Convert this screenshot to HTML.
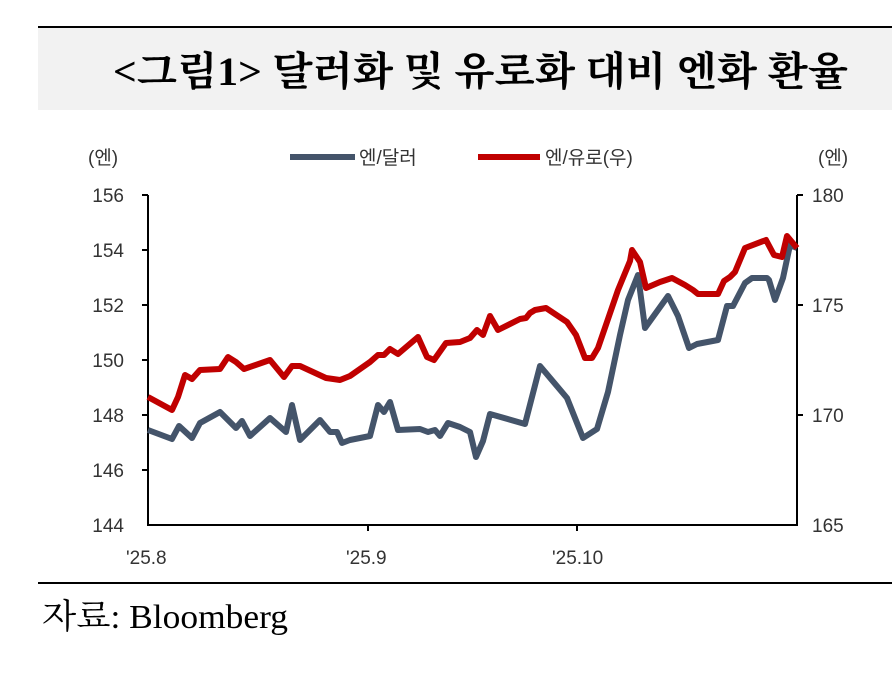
<!DOCTYPE html>
<html><head><meta charset="utf-8"><style>
html,body{margin:0;padding:0;background:#fff;width:892px;height:675px;overflow:hidden}
</style></head><body>
<svg width="892" height="675" xmlns="http://www.w3.org/2000/svg" font-family="'Liberation Sans','Noto Sans CJK KR',sans-serif">
<line x1="38" y1="27" x2="892" y2="27" stroke="#000" stroke-width="2"/>
<rect x="38" y="28" width="854" height="82" fill="#f2f2f2"/>
<text x="113" y="85" textLength="735" lengthAdjust="spacingAndGlyphs" font-family="'Liberation Serif','Noto Serif CJK SC','Noto Sans CJK KR',serif" font-size="40" font-weight="bold" fill="#000">&lt;그림1&gt; 달러화 및 유로화 대비 엔화 환율</text>
<g font-size="19" fill="#333">
<text x="88" y="164">(엔)</text>
<text x="818" y="164">(엔)</text>
<line x1="290" y1="157" x2="355" y2="157" stroke="#44546a" stroke-width="6"/>
<text x="359" y="164">엔/달러</text>
<line x1="478" y1="157" x2="540" y2="157" stroke="#c00000" stroke-width="6"/>
<text x="545" y="164">엔/유로(우)</text>
</g>
<g font-size="19" fill="#333" text-anchor="end">
<text x="124" y="202">156</text><text x="124" y="257">154</text><text x="124" y="312">152</text>
<text x="124" y="367">150</text><text x="124" y="422">148</text><text x="124" y="477">146</text><text x="124" y="532">144</text>
</g>
<g font-size="19" fill="#333">
<text x="812" y="202">180</text><text x="812" y="312">175</text><text x="812" y="422">170</text><text x="812" y="532">165</text>
<text x="126" y="564">'25.8</text><text x="346" y="564">'25.9</text><text x="552" y="564">'25.10</text>
</g>
<g stroke="#000" stroke-width="2">
<line x1="148" y1="195" x2="148" y2="526"/>
<line x1="797" y1="195" x2="797" y2="526"/>
<line x1="147" y1="525" x2="798" y2="525"/>
<line x1="142" y1="195" x2="148" y2="195"/><line x1="142" y1="250" x2="148" y2="250"/><line x1="142" y1="305" x2="148" y2="305"/><line x1="142" y1="360" x2="148" y2="360"/><line x1="142" y1="415" x2="148" y2="415"/><line x1="142" y1="470" x2="148" y2="470"/>
<line x1="797" y1="195" x2="803" y2="195"/><line x1="797" y1="305" x2="803" y2="305"/><line x1="797" y1="415" x2="803" y2="415"/>
<line x1="368" y1="525" x2="368" y2="531"/><line x1="577" y1="525" x2="577" y2="531"/>
</g>
<polyline fill="none" stroke="#44546a" stroke-width="6" stroke-linejoin="round" points="148,430 172,439 179,426 192,438 200,423 220,412 236,428 242,421 250,436 270,418 286,432 292,405 300,440 320,420 330,432 337,432 342,443 350,440 370,436 378,405 384,412 390,402 398,430 420,429 428,432 435,430 440,436 448,423 460,427 470,432 476,457 483,441 490,414 525,424 540,366 567,398 583,438 597,429 608,392 620,335 628,300 638,275 645,328 668,296 678,316 689,348 697,344 718,340 727,306 733,306 745,283 752,278 767,278 769,280 775,300 783,278 790,245 797,248"/>
<polyline fill="none" stroke="#c00000" stroke-width="6" stroke-linejoin="round" points="148,397 172,410 178,397 185,375 192,379 200,370 220,369 228,357 236,362 244,369 270,360 284,377 292,366 300,366 326,378 340,380 350,376 370,362 378,355 384,355 390,349 398,354 418,337 427,357 434,360 446,343 460,342 470,338 477,330 483,335 490,316 498,330 520,319 526,318 530,313 535,310 546,308 567,322 576,335 585,358 592,358 598,348 618,290 630,261 632,250 640,262 646,288 660,282 672,278 685,285 693,290 698,294 713,294 718,294 724,281 730,277 735,272 745,248 766,240 774,255 782,257 787,236 797,248"/>
<line x1="38" y1="583" x2="892" y2="583" stroke="#000" stroke-width="2"/>
<text x="42" y="628" textLength="246" lengthAdjust="spacingAndGlyphs" font-family="'Liberation Serif','Noto Serif CJK SC',serif" font-size="34" fill="#000">자료: Bloomberg</text>
</svg>
</body></html>
